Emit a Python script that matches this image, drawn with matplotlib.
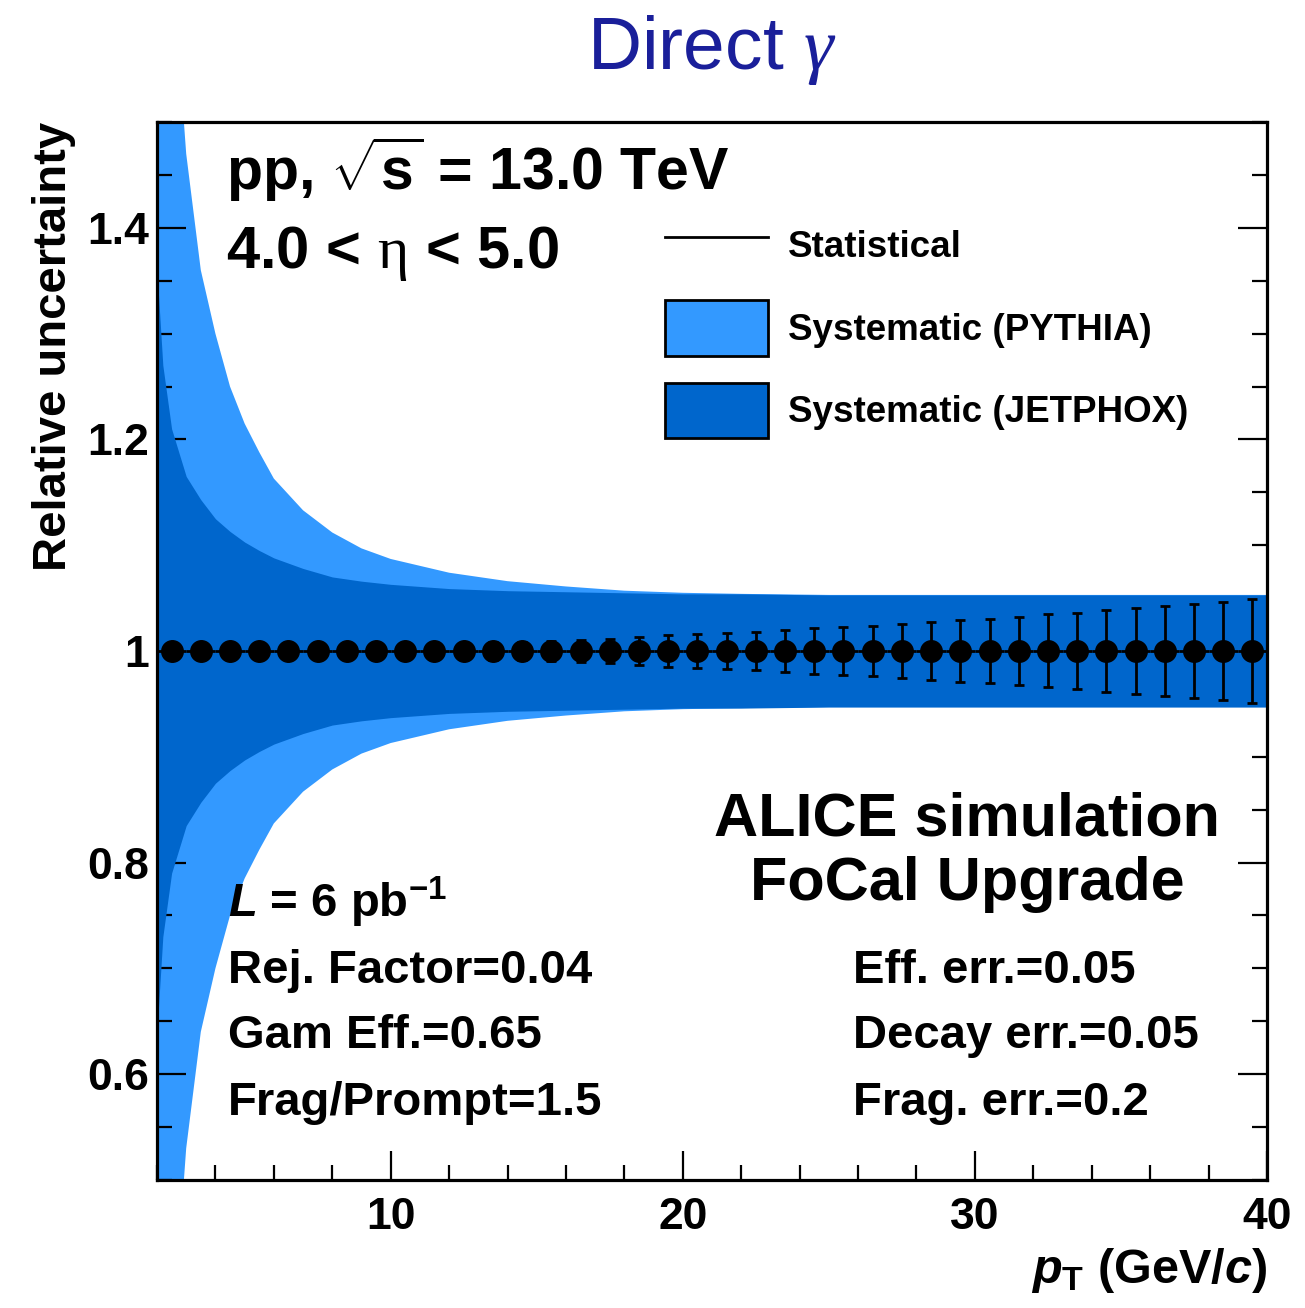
import numpy as np
import matplotlib
matplotlib.use("Agg")
import matplotlib.pyplot as plt
from matplotlib.lines import Line2D
from matplotlib.patches import Patch
from matplotlib.ticker import MultipleLocator, FuncFormatter

plt.rcParams['font.family'] = ['Liberation Sans', 'DejaVu Sans']
plt.rcParams['font.weight'] = 'bold'
plt.rcParams['axes.labelweight'] = 'bold'
plt.rcParams['mathtext.fontset'] = 'custom'
plt.rcParams['mathtext.rm'] = 'Liberation Serif:normal'
plt.rcParams['mathtext.it'] = 'Liberation Sans:bold:italic'
plt.rcParams['mathtext.bf'] = 'Liberation Sans:bold'
plt.rcParams['mathtext.cal'] = 'Liberation Serif:italic:normal'

# bin centres and relative value
pt = [2.5, 3.5, 4.5, 5.5, 6.5, 7.5, 8.5, 9.5, 10.5, 11.5, 12.5, 13.5, 14.5,
      15.5, 16.5, 17.5, 18.5, 19.5, 20.5, 21.5, 22.5, 23.5, 24.5, 25.5, 26.5,
      27.5, 28.5, 29.5, 30.5, 31.5, 32.5, 33.5, 34.5, 35.5, 36.5, 37.5, 38.5,
      39.5]
ratio = [1.0] * len(pt)
bin_half = [0.5] * len(pt)
stat_err = [0.0040, 0.0042, 0.0044, 0.0046, 0.0049, 0.0052, 0.0056, 0.0060,
            0.0064, 0.0069, 0.0075, 0.0081, 0.0088, 0.0096, 0.0106, 0.0118,
            0.0134, 0.0148, 0.0158, 0.0172, 0.0184, 0.0196, 0.0213, 0.0225,
            0.0238, 0.0255, 0.0273, 0.0290, 0.0307, 0.0325, 0.0345, 0.0363,
            0.0383, 0.0402, 0.0423, 0.0442, 0.0462, 0.0495]

# systematic bands (half widths)
band_pt = [2.0, 2.2, 2.5, 3.0, 3.5, 4.0, 4.5, 5.0, 5.5, 6.0, 7.0, 8.0, 9.0,
           10.0, 12.0, 14.0, 16.0, 18.0, 20.0, 22.0, 25.0, 30.0, 35.0, 40.0]
sys_pythia = [0.85, 0.78, 0.66, 0.47, 0.36, 0.30, 0.25, 0.215, 0.188, 0.163,
              0.133, 0.112, 0.097, 0.087, 0.074, 0.066, 0.061, 0.057, 0.055,
              0.054, 0.053, 0.053, 0.053, 0.053]
sys_jetphox = [0.36, 0.27, 0.21, 0.165, 0.143, 0.125, 0.113, 0.103, 0.095,
               0.088, 0.078, 0.070, 0.066, 0.063, 0.059, 0.057, 0.056, 0.055,
               0.054, 0.054, 0.053, 0.053, 0.053, 0.053]

c_light = '#3399ff'
c_dark = '#0066cc'

fig = plt.figure(figsize=(13.05, 13.08), dpi=100)
ax = fig.add_axes([0.1203, 0.0979, 0.8506, 0.8088])

bp = np.array(band_pt)
lo = np.array(sys_pythia)
jp = np.array(sys_jetphox)
ax.fill_between(bp, 1 - lo, 1 + lo, color=c_light, lw=0, zorder=1)
ax.fill_between(bp, 1 - jp, 1 + jp, color=c_dark, lw=0, zorder=2)

ax.errorbar(pt, ratio, xerr=bin_half, fmt='none', ecolor='black',
            elinewidth=2, zorder=3)
ax.errorbar(pt, ratio, yerr=stat_err, fmt='o', color='black', ms=15.5,
            elinewidth=2, capsize=3.5, capthick=2, zorder=4)

ax.set_xlim(2, 40)
ax.set_ylim(0.5, 1.5)

ax.xaxis.set_major_locator(MultipleLocator(10))
ax.xaxis.set_minor_locator(MultipleLocator(2))
ax.yaxis.set_major_locator(MultipleLocator(0.2))
ax.yaxis.set_minor_locator(MultipleLocator(0.05))
ax.yaxis.set_major_formatter(FuncFormatter(lambda v, p: f'{v:g}'))
ax.xaxis.set_major_formatter(FuncFormatter(lambda v, p: f'{v:g}'))

ax.tick_params(which='both', direction='in', top=False, right=True,
               width=1.6, labelsize=32)
ax.tick_params(which='major', length=21)
ax.tick_params(which='minor', length=10.5)
ax.tick_params(axis='x', pad=12)
ax.tick_params(axis='y', pad=6)
for s in ax.spines.values():
    s.set_linewidth(2.3)

ax.set_ylabel('Relative uncertainty', fontsize=34, loc='top', labelpad=8)
ax.set_xlabel(r'$p_{\mathbf{T}}$ (GeV/$c$)', fontsize=35, loc='right',
              labelpad=6)

# legend
handles = [Line2D([], [], color='black', lw=2),
           Patch(facecolor=c_light, edgecolor='black', lw=2),
           Patch(facecolor=c_dark, edgecolor='black', lw=2)]
labels = ['Statistical', 'Systematic (PYTHIA)', 'Systematic (JETPHOX)']
ax.legend(handles, labels, loc='upper left', bbox_to_anchor=(0.4577, 0.9098),
          frameon=False, fontsize=26.5, handlelength=2.8, handleheight=1.95,
          labelspacing=0.73, handletextpad=0.55, borderpad=0,
          borderaxespad=0)

# annotations
ax.text(0.062, 0.9357, r'pp, $\sqrt{\mathbf{s}}$ = 13.0 TeV', fontsize=42.5,
        transform=ax.transAxes, va='baseline')
ax.text(0.062, 0.862, r'4.0 < $\mathrm{\eta}$ < 5.0', fontsize=43,
        transform=ax.transAxes, va='baseline')
ax.text(0.7297, 0.326, 'ALICE simulation', fontsize=44, ha='center',
        va='baseline', transform=ax.transAxes)
ax.text(0.7297, 0.2647, 'FoCal Upgrade', fontsize=44, ha='center',
        va='baseline', transform=ax.transAxes)

left_txt = [r'$L$ = 6 pb$^{\mathbf{-1}}$', 'Rej. Factor=0.04',
            'Gam Eff.=0.65', 'Frag/Prompt=1.5']
right_txt = ['Eff. err.=0.05', 'Decay err.=0.05', 'Frag. err.=0.2']
rows = [0.2485, 0.1862, 0.1248, 0.0614]
for t, yy in zip(left_txt, rows):
    ax.text(0.064, yy, t, fontsize=34, va='baseline', transform=ax.transAxes)
for t, yy in zip(right_txt, rows[1:]):
    ax.text(0.627, yy, t, fontsize=34, va='baseline', transform=ax.transAxes)

fig.text(0.5456, 0.947, r'Direct $\mathcal{\gamma}$', fontsize=54,
         fontweight='normal', color='#1a1f9a', ha='center', va='baseline')

fig.savefig('out.png', dpi=100)
